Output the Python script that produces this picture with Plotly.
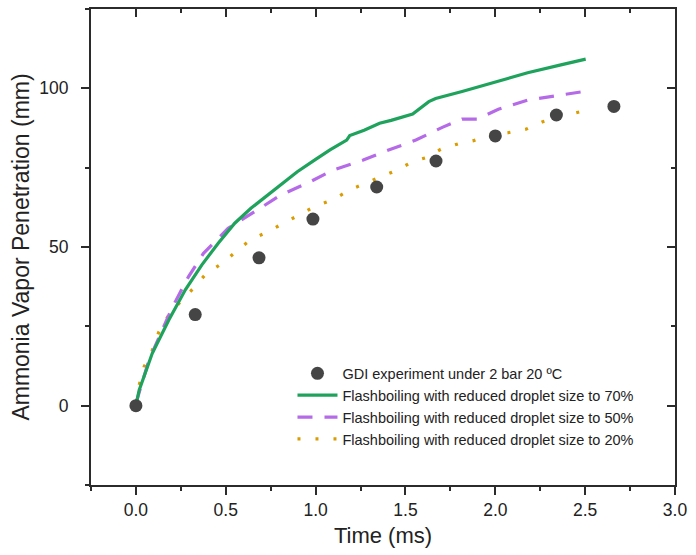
import plotly.graph_objects as go

# Experimental points
exp_t = [0.0, 0.33, 0.685, 0.985, 1.34, 1.67, 2.0, 2.34, 2.66]
exp_y = [0.0, 28.7, 46.6, 58.8, 68.9, 77.1, 85.0, 91.6, 94.3]

# Flashboiling, droplet size 70%
g_t = [0.0, 0.018, 0.091, 0.183, 0.275, 0.366, 0.458, 0.55, 0.64, 0.733, 0.825, 0.898,
       1.0, 1.08, 1.173, 1.19, 1.27, 1.356, 1.42, 1.503, 1.54, 1.63, 1.668, 1.815, 2.0,
       2.18, 2.365, 2.503]
g_y = [0.0, 4.9, 16.5, 27.0, 36.5, 44.3, 51.2, 57.5, 62.2, 66.4, 70.6, 73.7,
       77.6, 80.6, 83.7, 85.1, 86.8, 89.0, 89.9, 91.3, 91.9, 95.8, 96.8, 99.0, 102.1,
       104.9, 107.4, 109.2]

# Flashboiling, droplet size 50%
p_t = [0.0, 0.073, 0.2, 0.293, 0.376, 0.513, 0.66, 0.806, 0.953, 1.1, 1.265, 1.393,
       1.558, 1.705, 1.815, 1.898, 2.017, 2.18, 2.365, 2.493]
p_y = [0.8, 14.4, 30.7, 40.7, 48.0, 55.9, 61.1, 66.4, 70.1, 74.3, 77.4, 80.3,
       83.7, 87.7, 90.3, 90.3, 93.4, 96.3, 97.9, 99.0]

# Flashboiling, droplet size 20%
o_t = [0.0, 0.018, 0.046, 0.091, 0.128, 0.183, 0.248, 0.32, 0.388, 0.486, 0.568, 0.641,
       0.724, 0.816, 0.908, 1.0, 1.1, 1.19, 1.283, 1.375, 1.448, 1.54, 1.623, 1.696,
       1.793, 1.879, 1.97, 2.07, 2.17, 2.264, 2.347, 2.448, 2.5]
o_y = [1.0, 6.5, 12.3, 17.5, 23.3, 28.6, 32.8, 37.0, 41.4, 45.1, 49.1, 52.4,
       54.5, 57.2, 60.1, 62.9, 65.0, 68.0, 70.3, 72.4, 74.1, 76.9, 78.3, 80.8,
       82.5, 83.5, 85.3, 86.0, 87.1, 89.5, 90.9, 92.3, 93.0]

names = ["GDI experiment under 2 bar 20 \u00baC",
         "Flashboiling with reduced droplet size to 70%",
         "Flashboiling with reduced droplet size to 50%",
         "Flashboiling with reduced droplet size to 20%"]

x_tickvals = [0.0, 0.5, 1.0, 1.5, 2.0, 2.5, 3.0]
x_ticktext = ["0.0", "0.5", "1.0", "1.5", "2.0", "2.5", "3.0"]
y_tickvals = [0, 50, 100]
y_ticktext = ["0", "50", "100"]

x_range = [-0.25, 3.0]
y_range = [-25, 125]

fig = go.Figure()
fig.add_trace(go.Scatter(x=o_t, y=o_y, mode="lines", name=names[3],
                         line=dict(color="#DA9C00", width=3.2, dash="3px,15px"),
                         legendrank=4))
fig.add_trace(go.Scatter(x=p_t, y=p_y, mode="lines", name=names[2],
                         line=dict(color="#B56BE8", width=3.2, dash="15px,12px"),
                         legendrank=3))
fig.add_trace(go.Scatter(x=g_t, y=g_y, mode="lines", name=names[1],
                         line=dict(color="#1FA35C", width=3.2),
                         legendrank=2))
fig.add_trace(go.Scatter(x=exp_t, y=exp_y, mode="markers", name=names[0],
                         marker=dict(color="#454545", size=13, symbol="circle"),
                         legendrank=1))
# invisible helper trace for top/right mirror axes
fig.add_trace(go.Scatter(x=[None], y=[None], xaxis="x2", yaxis="y2",
                         showlegend=False, hoverinfo="skip"))

axcol = "#2b2b2b"
font = "Liberation Sans, Arial, sans-serif"

fig.update_layout(
    width=696, height=555,
    margin=dict(l=91, r=14, t=9, b=70),
    plot_bgcolor="white", paper_bgcolor="white",
    font=dict(family=font, color="#222"),
    showlegend=True,
    legend=dict(x=0.345, y=0.268, xanchor="left", yanchor="top",
                bgcolor="rgba(0,0,0,0)", font=dict(size=14.5, family=font),
                itemwidth=40, tracegroupgap=0),
    xaxis=dict(range=x_range, tickvals=x_tickvals, ticktext=x_ticktext,
               ticks="outside", ticklen=8, tickwidth=2, tickcolor=axcol,
               showline=True, linewidth=2, linecolor=axcol, showgrid=False, zeroline=False,
               tickfont=dict(size=17.5), ticklabelstandoff=0,
               title=dict(text="Time (ms)", font=dict(size=22), standoff=9),
               minor=dict(dtick=0.25, tick0=0, ticks="outside", ticklen=4, tickwidth=2,
                          tickcolor=axcol, showgrid=False)),
    yaxis=dict(range=y_range, tickvals=y_tickvals, ticktext=y_ticktext,
               ticks="outside", ticklen=8, tickwidth=2, tickcolor=axcol,
               showline=True, linewidth=2, linecolor=axcol, showgrid=False, zeroline=False,
               tickfont=dict(size=17.5), ticklabelstandoff=9,
               title=dict(text="Ammonia Vapor Penetration (mm)", font=dict(size=23), standoff=3),
               minor=dict(dtick=25, tick0=0, ticks="outside", ticklen=4, tickwidth=2,
                          tickcolor=axcol, showgrid=False)),
    xaxis2=dict(range=x_range, overlaying="x", side="top", tickvals=x_tickvals,
                ticks="inside", ticklen=8, tickwidth=2, tickcolor=axcol,
                showline=True, linewidth=2, linecolor=axcol, showgrid=False, zeroline=False,
                showticklabels=False,
                minor=dict(dtick=0.25, tick0=0, ticks="inside", ticklen=4, tickwidth=2,
                           tickcolor=axcol, showgrid=False)),
    yaxis2=dict(range=y_range, overlaying="y", side="right", tickvals=y_tickvals,
                ticks="inside", ticklen=8, tickwidth=2, tickcolor=axcol,
                showline=True, linewidth=2, linecolor=axcol, showgrid=False, zeroline=False,
                showticklabels=False,
                minor=dict(dtick=25, tick0=0, ticks="inside", ticklen=4, tickwidth=2,
                           tickcolor=axcol, showgrid=False)),
)

fig.write_html("out.html")
